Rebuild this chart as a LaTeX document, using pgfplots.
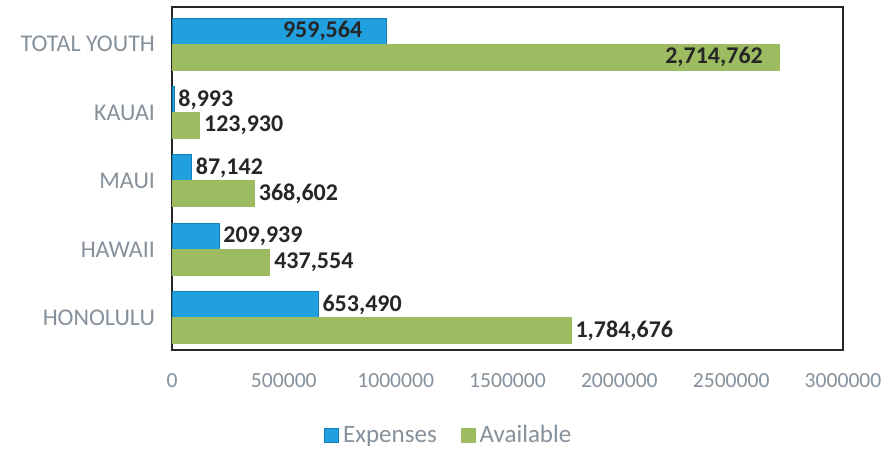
\documentclass[border=0pt]{standalone}
\usepackage{pgfplots}
\pgfplotsset{compat=1.18}
\usepackage{fontspec}
\setmainfont{Carlito}
\definecolor{expblue}{HTML}{20A0DE}
\definecolor{expedge}{HTML}{1580B8}
\definecolor{avgreen}{HTML}{9DBB61}
\definecolor{labgray}{HTML}{86919B}
\definecolor{datatxt}{HTML}{262626}
\begin{document}
\begin{tikzpicture}
\begin{axis}[
  scale only axis,
  width=335.5pt, height=171.5pt,
  xmin=0, xmax=3000000,
  ymin=-0.47, ymax=4.54,
  scaled x ticks=false,
  xtick={0,500000,1000000,1500000,2000000,2500000,3000000},
  xticklabels={0,500000,1000000,1500000,2000000,2500000,3000000},
  ytick={0,1,2,3,4},
  yticklabels={HONOLULU,HAWAII,MAUI,KAUAI,TOTAL YOUTH},
  major tick length=0pt,
  axis line style={line width=1.2pt, draw=black!85},
  xticklabel style={font=\fontsize{10.8}{12}\selectfont, text=labgray, yshift=-8pt},
  yticklabel style={font=\fontsize{12}{14}\selectfont, text=labgray, xshift=-5pt},
  xbar, bar width=13pt,
  point meta=explicit symbolic,
  nodes near coords,
  nodes near coords style={font=\bfseries\fontsize{12}{14}\selectfont, text=datatxt, anchor=west, inner xsep=2pt},
  legend style={at={(0.414,-0.25)}, anchor=center, draw=none, legend columns=-1,
    font=\fontsize{12.5}{14}\selectfont, text=labgray,
    /tikz/every even column/.append style={column sep=10pt}},
  legend image code/.code={\fill[#1] (0pt,-3.5pt) rectangle (7pt,3.5pt);},
]
\addplot[fill=expblue, draw=expedge, bar shift=6.5pt] table[x=x,y=y,meta=l] {
x y l
653490 0 653,490
209939 1 209,939
87142 2 87,142
8993 3 8,993
};
\addlegendentry{Expenses}
\addplot[fill=avgreen, draw=avgreen, bar shift=-6.5pt] table[x=x,y=y,meta=l] {
x y l
1784676 0 1,784,676
437554 1 437,554
368602 2 368,602
123930 3 123,930
};
\addlegendentry{Available}
\addplot[fill=expblue, draw=expedge, bar shift=6.5pt, forget plot,
  nodes near coords style={anchor=east, xshift=-10pt}] table[x=x,y=y,meta=l] {
x y l
959564 4 959,564
};
\addplot[fill=avgreen, draw=avgreen, bar shift=-6.5pt, forget plot,
  nodes near coords style={anchor=east, xshift=-6pt}] table[x=x,y=y,meta=l] {
x y l
2714762 4 2,714,762
};
\end{axis}
\pgfresetboundingbox
\path[use as bounding box] (current axis.south west) ++(-86pt,-49.5pt) rectangle ([xshift=21.5pt,yshift=3.5pt]current axis.north east);
\end{tikzpicture}
\end{document}
